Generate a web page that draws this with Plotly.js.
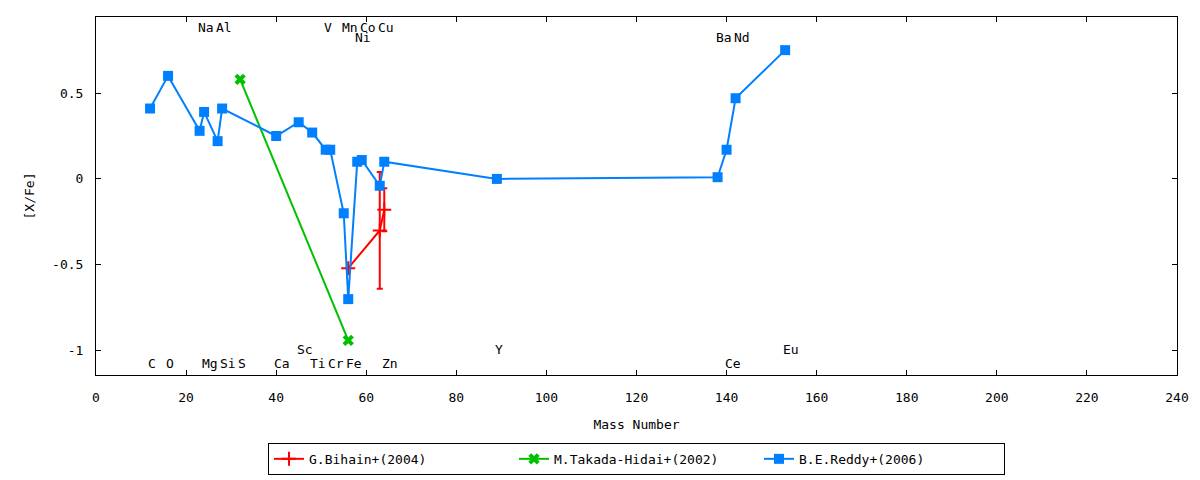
<!DOCTYPE html>
<html>
<head>
<meta charset="utf-8">
<script src="https://cdn.plot.ly/plotly-3.0.1.min.js"></script>
<style>html,body{margin:0;padding:0;background:#fff;}#chart{width:1200px;height:480px;}</style>
</head>
<body>
<div id="chart"></div>
<script>
// B.E.Reddy+(2006)
const reddyMass = [12, 16, 23, 24, 27, 28, 40, 45, 48, 51, 52, 55, 56, 58, 59, 63, 64, 89, 138, 140, 142, 153];
const reddyXFe  = [0.41, 0.60, 0.28, 0.39, 0.22, 0.41, 0.25, 0.33, 0.27, 0.17, 0.17, -0.20, -0.70, 0.10, 0.11, -0.04, 0.10, 0.00, 0.01, 0.17, 0.47, 0.75];
// M.Takada-Hidai+(2002)
const takadaMass = [32, 56];
const takadaXFe  = [0.58, -0.94];
// G.Bihain+(2004)
const bihainMass = [56, 63, 64];
const bihainXFe  = [-0.52, -0.30, -0.18];
const bihainErr  = [0.0, 0.34, 0.125];
// element labels
const labelNames = ["Na","Al","V","Mn","Co","Cu","Ni","Ba","Nd","C","O","Mg","Si","S","Ca","Ti","Cr","Fe","Zn","Ce","Sc","Y","Eu"];
const labelMass  = [23, 27, 51, 55, 59, 63, 58, 138, 142, 12, 16, 24, 28, 32, 40, 48, 52, 56, 64, 140, 45, 89, 153];
const labelY     = [0.883,0.883,0.883,0.883,0.883,0.883,0.823,0.823,0.823,-1.073,-1.073,-1.073,-1.073,-1.073,-1.073,-1.073,-1.073,-1.073,-1.073,-1.073,-0.994,-0.994,-0.994];
const xTicks = [0, 20, 40, 60, 80, 100, 120, 140, 160, 180, 200, 220, 240];
const yTicks = [-1, -0.5, 0, 0.5];
const yTickText = ["-1", "-0.5", "0", "0.5"];

const FONT = "DejaVu Sans Mono";
const traces = [
  {
    name: "G.Bihain+(2004)", x: bihainMass, y: bihainXFe, type: "scatter", mode: "lines+markers",
    line: {color: "#ff0000", width: 2},
    marker: {symbol: "cross-thin", size: 10, color: "#ff0000", line: {color: "#ff0000", width: 2}},
    error_y: {type: "data", array: bihainErr, visible: true, color: "#ff0000", thickness: 2, width: 3}
  },
  {
    name: "M.Takada-Hidai+(2002)", x: takadaMass, y: takadaXFe, type: "scatter", mode: "lines+markers",
    line: {color: "#00c000", width: 2},
    marker: {symbol: "x", size: 10, color: "#00c000"}
  },
  {
    name: "B.E.Reddy+(2006)", x: reddyMass, y: reddyXFe, type: "scatter", mode: "lines+markers",
    line: {color: "#0080ff", width: 2},
    marker: {symbol: "square", size: 10, color: "#0080ff"}
  }
];

const annotations = labelNames.map((t, i) => ({
  x: labelMass[i], y: labelY[i], xref: "x", yref: "y", text: t, showarrow: false,
  xanchor: "left", yanchor: "middle", xshift: -3, borderpad: 0,
  font: {family: FONT, size: 13, color: "#000"}
}));

const layout = {
  width: 1200, height: 480,
  margin: {l: 96, r: 23, t: 17, b: 105, autoexpand: false},
  paper_bgcolor: "#fff", plot_bgcolor: "#fff",
  font: {family: FONT, size: 13, color: "#000"},
  showlegend: true,
  legend: {
    orientation: "h", x: 0.5, xanchor: "center", y: -0.279, yanchor: "bottom",
    bordercolor: "#000", borderwidth: 1, bgcolor: "#fff",
    font: {family: FONT, size: 13, color: "#000"},
    entrywidth: 200, entrywidthmode: "pixels", traceorder: "normal"
  },
  xaxis: {
    range: [0, 240], tickvals: xTicks, ticktext: xTicks.map(String), automargin: false,
    ticks: "inside", ticklen: 5, tickcolor: "#000", showline: true, linecolor: "#000", linewidth: 1,
    mirror: "ticks", showgrid: false, zeroline: false, ticklabelstandoff: 10,
    title: {text: "Mass Number", standoff: 16, font: {family: FONT, size: 13}}
  },
  yaxis: {
    range: [-1.142, 0.943], tickvals: yTicks, ticktext: yTickText, automargin: false,
    ticks: "inside", ticklen: 5, tickcolor: "#000", showline: true, linecolor: "#000", linewidth: 1,
    mirror: "ticks", showgrid: false, zeroline: false, ticklabelstandoff: 9,
    title: {text: "[X/Fe]", standoff: 14, font: {family: FONT, size: 13}}
  },
  annotations: annotations
};

Plotly.newPlot("chart", traces, layout, {displayModeBar: false, staticPlot: true});
</script>
</body>
</html>
